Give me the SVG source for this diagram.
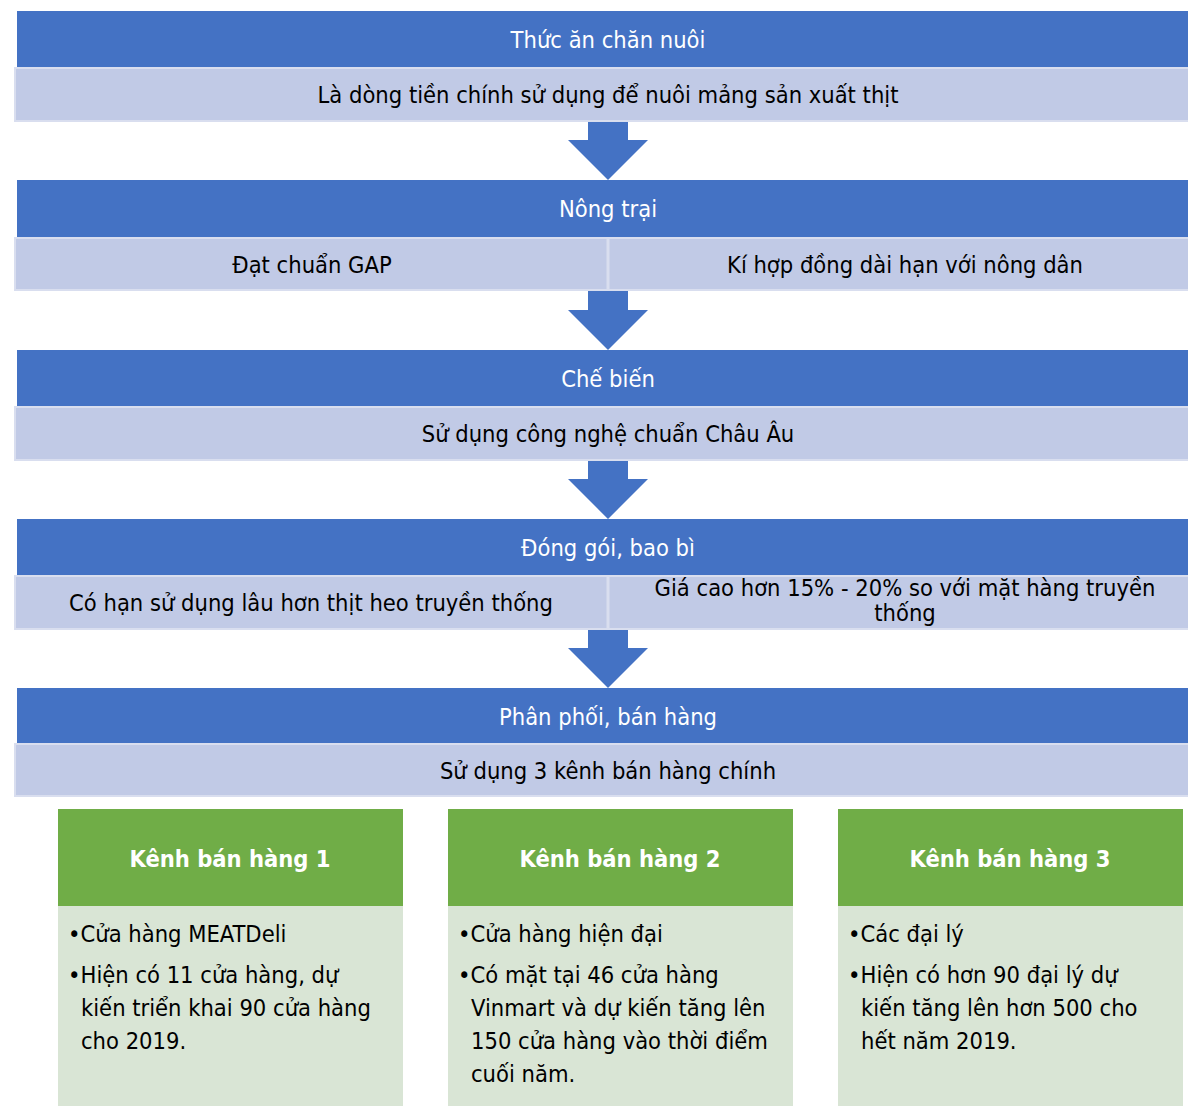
<svg xmlns="http://www.w3.org/2000/svg" width="1188" height="1106" viewBox="0 0 1188 1106">
<style>
text{font-family:"DejaVu Sans Condensed","DejaVu Sans",sans-serif;font-size:23.5px}
.hd{fill:#4472C4}
.bd{fill:#C1CAE6;stroke:#D9DEEF;stroke-width:2}
.sep{stroke:#D9DEEF;stroke-width:3}
.ht{fill:#FFFFFF;text-anchor:middle}
.bt{fill:#000000;text-anchor:middle}
.arr{fill:#4472C4}
.gh{fill:#70AD47}
.gb{fill:#D9E5D5}
.gt{fill:#FFFFFF;text-anchor:middle;font-weight:bold}
.lt{fill:#000000}
</style>
<g id="connectors">
<polygon class="arr" points="588,122 628,122 628,140 648,140 608,180 568,140 588,140"/>
<polygon class="arr" points="588,291 628,291 628,310 648,310 608,350 568,310 588,310"/>
<polygon class="arr" points="588,461 628,461 628,479 648,479 608,519 568,479 588,479"/>
<polygon class="arr" points="588,630 628,630 628,648 648,648 608,688 568,648 588,648"/>
</g>
<g id="node-thuc-an">
<rect class="hd" x="17" y="11" width="1171" height="57"/>
<text class="ht" x="608" y="48">Thức ăn chăn nuôi</text>
<rect class="bd" x="15" y="68" width="1175" height="53"/>
<text class="bt" x="608" y="103">Là dòng tiền chính sử dụng để nuôi mảng sản xuất thịt</text>
</g>
<g id="node-nong-trai">
<rect class="hd" x="17" y="180" width="1171" height="58"/>
<text class="ht" x="608" y="217">Nông trại</text>
<rect class="bd" x="15" y="238" width="1175" height="52"/>
<line class="sep" x1="608" y1="239" x2="608" y2="289"/>
<text class="bt" x="312" y="273">Đạt chuẩn GAP</text>
<text class="bt" x="905" y="273">Kí hợp đồng dài hạn với nông dân</text>
</g>
<g id="node-che-bien">
<rect class="hd" x="17" y="350" width="1171" height="57"/>
<text class="ht" x="608" y="387">Chế biến</text>
<rect class="bd" x="15" y="407" width="1175" height="53"/>
<text class="bt" x="608" y="442">Sử dụng công nghệ chuẩn Châu Âu</text>
</g>
<g id="node-dong-goi">
<rect class="hd" x="17" y="519" width="1171" height="57"/>
<text class="ht" x="608" y="556">Đóng gói, bao bì</text>
<rect class="bd" x="15" y="576" width="1175" height="53"/>
<line class="sep" x1="608" y1="577" x2="608" y2="628"/>
<text class="bt" x="311" y="611">Có hạn sử dụng lâu hơn thịt heo truyền thống</text>
<text class="bt" x="905" y="596">Giá cao hơn 15% - 20% so với mặt hàng truyền</text>
<text class="bt" x="905" y="621">thống</text>
</g>
<g id="node-phan-phoi">
<rect class="hd" x="17" y="688" width="1171" height="56"/>
<text class="ht" x="608" y="725">Phân phối, bán hàng</text>
<rect class="bd" x="15" y="744" width="1175" height="52"/>
<text class="bt" x="608" y="779">Sử dụng 3 kênh bán hàng chính</text>
</g>
<g id="node-kenh-1">
<rect class="gh" x="58" y="809" width="345" height="97"/>
<rect class="gb" x="58" y="906" width="345" height="200"/>
<text class="gt" x="230" y="867">Kênh bán hàng 1</text>
<text class="lt" x="68" y="942">•Cửa hàng MEATDeli</text>
<text class="lt" x="68" y="983">•Hiện có 11 cửa hàng, dự</text>
<text class="lt" x="81" y="1016">kiến triển khai 90 cửa hàng</text>
<text class="lt" x="81" y="1049">cho 2019.</text>
</g>
<g id="node-kenh-2">
<rect class="gh" x="448" y="809" width="345" height="97"/>
<rect class="gb" x="448" y="906" width="345" height="200"/>
<text class="gt" x="620" y="867">Kênh bán hàng 2</text>
<text class="lt" x="458" y="942">•Cửa hàng hiện đại</text>
<text class="lt" x="458" y="983">•Có mặt tại 46 cửa hàng</text>
<text class="lt" x="471" y="1016">Vinmart và dự kiến tăng lên</text>
<text class="lt" x="471" y="1049">150 cửa hàng vào thời điểm</text>
<text class="lt" x="471" y="1082">cuối năm.</text>
</g>
<g id="node-kenh-3">
<rect class="gh" x="838" y="809" width="345" height="97"/>
<rect class="gb" x="838" y="906" width="345" height="200"/>
<text class="gt" x="1010" y="867">Kênh bán hàng 3</text>
<text class="lt" x="848" y="942">•Các đại lý</text>
<text class="lt" x="848" y="983">•Hiện có hơn 90 đại lý dự</text>
<text class="lt" x="861" y="1016">kiến tăng lên hơn 500 cho</text>
<text class="lt" x="861" y="1049">hết năm 2019.</text>
</g>
</svg>
